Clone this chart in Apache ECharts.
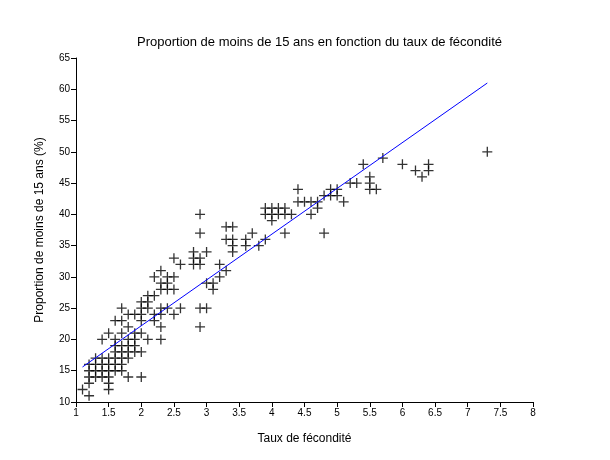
<!DOCTYPE html>
<html>
<head>
<meta charset="utf-8">
<script src="https://cdn.jsdelivr.net/npm/echarts@6/dist/echarts.min.js"></script>
<style>html,body{margin:0;padding:0;background:#fff;}#c{width:610px;height:460px;}</style>
</head>
<body>
<div id="c"></div>
<script>
// Taux de fécondité (x) and Proportion de moins de 15 ans (y), paired
const fertility = [
  1.1,
  1.2,1.2,1.2,1.2,1.2,
  1.3,1.3,1.3,1.3,
  1.4,1.4,1.4,1.4,1.4,
  1.5,1.5,1.5,1.5,1.5,1.5,1.5,
  1.6,1.6,1.6,1.6,1.6,1.6,1.6,
  1.7,1.7,1.7,1.7,1.7,1.7,1.7,1.7,
  1.8,1.8,1.8,1.8,1.8,1.8,1.8,
  1.9,1.9,1.9,1.9,1.9,
  2.0,2.0,2.0,2.0,2.0,2.0,2.0,
  2.1,2.1,2.1,2.1,
  2.2,2.2,2.2,2.2,
  2.3,2.3,2.3,2.3,2.3,2.3,2.3,
  2.4,2.4,2.4,2.4,
  2.5,2.5,2.5,2.5,
  2.6,2.6,
  2.8,2.8,2.8,
  2.9,2.9,2.9,2.9,2.9,2.9,
  3.0,3.0,3.0,
  3.1,3.1,
  3.2,3.2,
  3.3,3.3,3.3,
  3.4,3.4,3.4,3.4,
  3.6,3.6,
  3.7,
  3.8,
  3.9,3.9,3.9,
  4.0,4.0,4.0,
  4.1,4.1,
  4.2,4.2,4.2,
  4.3,
  4.4,4.4,
  4.5,
  4.6,4.6,
  4.7,4.7,
  4.8,4.8,
  4.9,4.9,
  5.0,5.0,
  5.1,
  5.2,
  5.3,
  5.4,
  5.5,5.5,5.5,
  5.6,
  5.7,
  6.0,
  6.2,
  6.3,
  6.4,6.4,
  7.3
];
const under15 = [
  12,
  11,13,14,15,16,
  14,15,16,17,
  14,15,16,17,20,
  12,13,14,15,16,17,21,
  15,16,17,18,19,20,23,
  15,16,17,18,19,21,23,25,
  14,17,18,19,20,22,24,
  18,19,20,21,24,
  14,18,21,23,24,25,26,
  20,25,26,27,
  23,24,27,30,
  20,22,24,25,28,29,31,
  25,28,29,30,
  24,28,30,33,
  25,32,
  32,33,34,
  22,25,32,33,37,40,
  25,29,34,
  28,29,
  30,32,
  31,36,38,
  34,35,36,38,
  35,36,
  37,
  35,
  36,40,41,
  39,40,41,
  40,41,
  37,40,41,
  40,
  42,44,
  42,
  40,42,
  41,42,
  37,43,
  43,44,
  43,44,
  42,
  45,
  45,
  48,
  44,45,46,
  44,
  49,
  48,
  47,
  46,
  47,48,
  50
];
// Fitted line end points
const lineX = [1.1, 7.3];
const lineY = [15.6, 61.0];

const xTicks = {min: 1, max: 8, interval: 0.5};
const yTicks = {min: 10, max: 65, interval: 5};

const pts = fertility.map((x, i) => [x, under15[i]]);
const linePts = lineX.map((x, i) => [x, lineY[i]]);

const font = 'Liberation Sans, Arial, sans-serif';
const chart = echarts.init(document.getElementById('c'), null, {renderer: 'canvas'});
chart.setOption({
  animation: false,
  backgroundColor: '#fff',
  title: {
    text: 'Proportion de moins de 15 ans en fonction du taux de fécondité',
    left: 132, top: 31,
    textStyle: {fontFamily: font, fontSize: 13, fontWeight: 'normal', color: '#000'}
  },
  grid: {left: 76, right: 77, top: 58, bottom: 58},
  xAxis: {
    type: 'value', min: xTicks.min, max: xTicks.max, interval: xTicks.interval,
    name: 'Taux de fécondité', nameLocation: 'middle', nameGap: 31,
    nameTextStyle: {fontFamily: font, fontSize: 12, color: '#000'},
    axisLine: {show: true, lineStyle: {color: '#000', width: 1}},
    axisTick: {show: true, length: 5, lineStyle: {color: '#000'}},
    axisLabel: {fontFamily: font, fontSize: 10, color: '#000', margin: 6,
      formatter: v => String(v)},
    splitLine: {show: false}
  },
  yAxis: {
    type: 'value', min: yTicks.min, max: yTicks.max, interval: yTicks.interval,
    name: 'Proportion de moins de 15 ans (%)', nameLocation: 'middle', nameGap: 30,
    nameTextStyle: {fontFamily: font, fontSize: 12, color: '#000'},
    axisLine: {show: true, lineStyle: {color: '#000', width: 1}},
    axisTick: {show: true, length: 5, lineStyle: {color: '#000'}},
    axisLabel: {fontFamily: font, fontSize: 10, color: '#000', margin: 6},
    splitLine: {show: false}
  },
  series: [
    {
      type: 'scatter', data: pts,
      symbol: 'path://M0,5L10,5M5,0L5,10', symbolSize: 10,
      itemStyle: {color: 'none', borderColor: '#000', borderWidth: 1.3}
    },
    {
      type: 'line', data: linePts, symbol: 'none',
      lineStyle: {color: '#0000ff', width: 1}
    }
  ]
});
</script>
</body>
</html>
